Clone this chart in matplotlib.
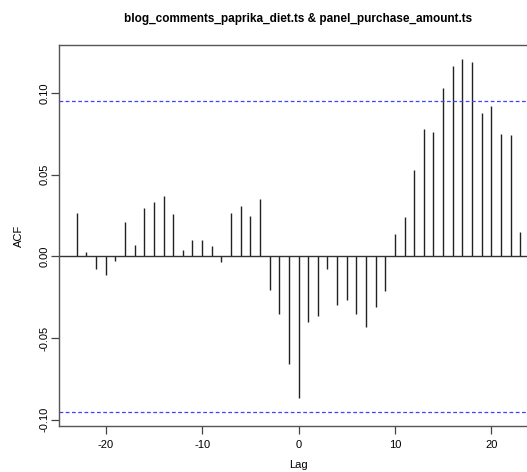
import numpy as np
import matplotlib
matplotlib.use("Agg")
import matplotlib.pyplot as plt

plt.rcParams['font.family'] = ['Liberation Sans', 'DejaVu Sans']

# === DANE ===
lags = list(range(-23, 24))
acf = [0.0267, 0.0029, -0.0080, -0.0112, -0.0027, 0.0208, 0.0069, 0.0298,
       0.0333, 0.0371, 0.0259, 0.0039, 0.0102, 0.0098, 0.0065, -0.0037,
       0.0265, 0.0310, 0.0249, 0.0351, -0.0208, -0.0353, -0.0657, -0.0865,
       -0.0404, -0.0367, -0.0080, -0.0296, -0.0269, -0.0355, -0.0435, -0.0310,
       -0.0214, 0.0135, 0.0243, 0.0529, 0.0780, 0.0761, 0.1029, 0.1161,
       0.1206, 0.1188, 0.0878, 0.0920, 0.0749, 0.0743, 0.0147]
ci = 0.0952
title = "blog_comments_paprika_diet.ts & panel_purchase_amount.ts"
xticks = [-20, -10, 0, 10, 20]
yticks = [-0.10, -0.05, 0.00, 0.05, 0.10]

# === WYKRES ===
W, H = 527, 472
fig = plt.figure(figsize=(W / 100, H / 100), dpi=100)
x0, x1, y0, y1 = 59, 538, 45, 426
ax = fig.add_axes([x0 / W, 1 - y1 / H, (x1 - x0) / W, (y1 - y0) / H])

ax.vlines(lags, 0, acf, color='#222222', linewidth=1.0)
ax.axhline(0, color='#333333', linewidth=1.0)
ax.axhline(ci, color='#4040ff', linestyle=(0, (3, 2)), linewidth=0.9)
ax.axhline(-ci, color='#4040ff', linestyle=(0, (3, 2)), linewidth=0.9)

lo = min(min(acf), -ci)
hi = max(max(acf), ci)
pad = 0.04 * (hi - lo)
ax.set_ylim(lo - pad, hi + pad)
ax.set_xlim(-23 - 0.04 * 46, 23 + 0.04 * 46)

ax.set_xticks(xticks)
ax.set_xticklabels([str(t) for t in xticks], fontsize=8)
ax.set_yticks(yticks)
ax.set_yticklabels([f"{t:.2f}".replace("-0.00", "0.00") for t in yticks],
                   fontsize=8, rotation=90, va='center')
ax.tick_params(direction='out', length=6, width=0.9, color='#444444', pad=4)
ax.tick_params(axis='y', pad=1)
for s in ax.spines.values():
    s.set_color('#555555')
    s.set_linewidth(1.0)

fig.text((x0 + x1) / 2 / W, 1 - 465 / H, "Lag", ha='center', va='center', fontsize=8)
fig.text(19 / W, 1 - 236 / H, "ACF", ha='center', va='center', fontsize=8, rotation=90)
fig.text((x0 + x1) / 2 / W, 1 - 19 / H, title, ha='center', va='center',
         fontsize=8.5, fontweight='bold')

fig.savefig("out.png", dpi=100)
